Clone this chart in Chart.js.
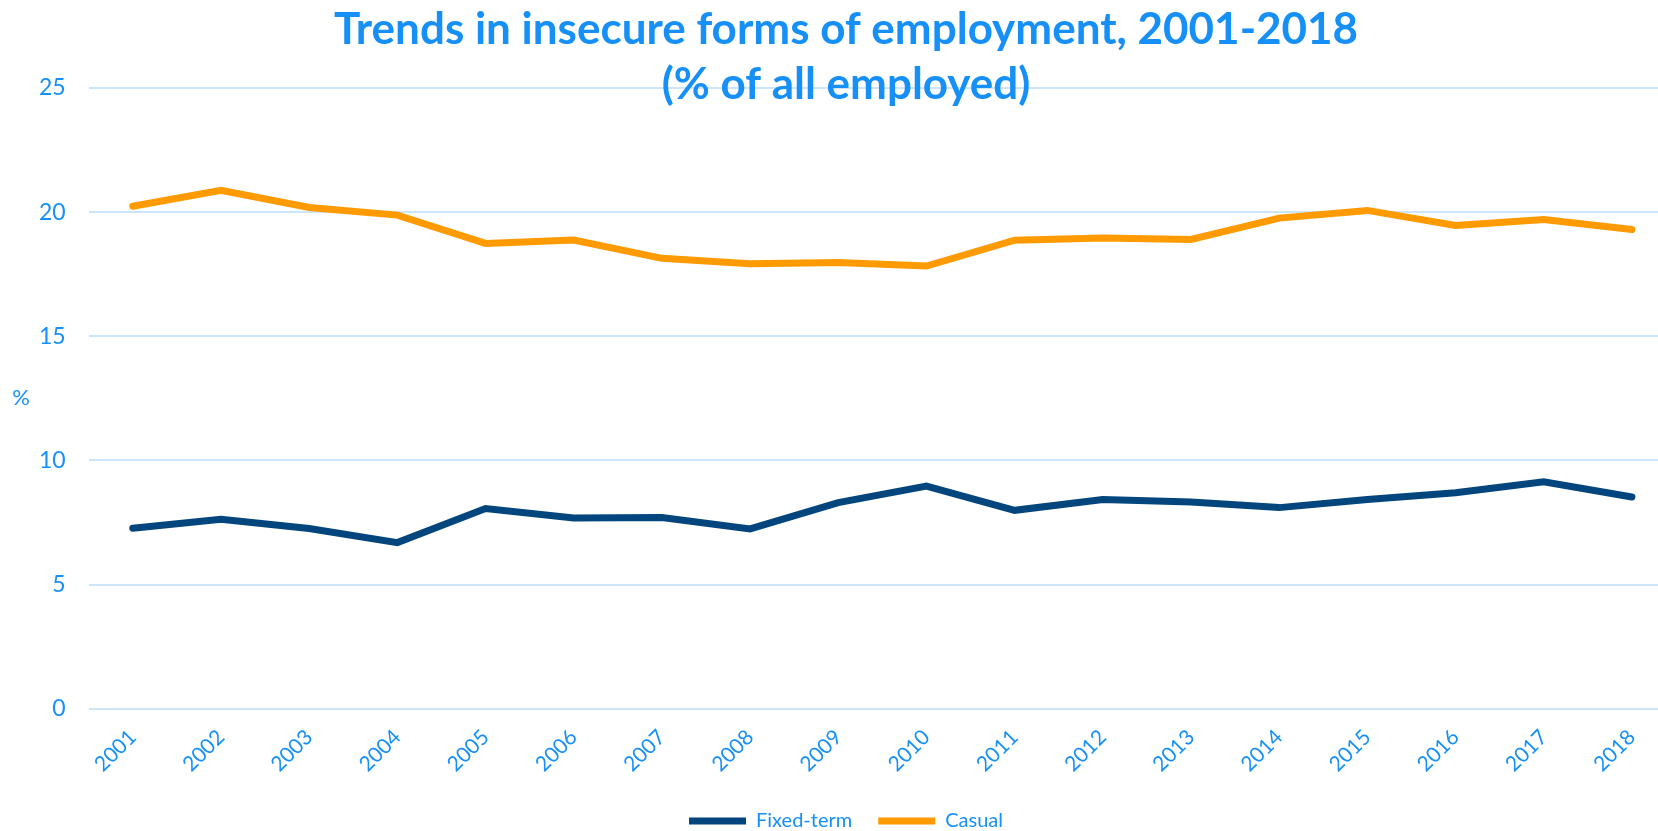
<!DOCTYPE html>
<html>
<head>
<meta charset="utf-8">
<script src="https://cdn.jsdelivr.net/npm/chart.js@4.4.1/dist/chart.umd.min.js"></script>
<style>
  html, body { margin: 0; padding: 0; background: #fff; overflow: hidden; }
  #wrap { width: 1690px; height: 831px; }
</style>
</head>
<body>
<div id="wrap"><canvas id="myLineChart"></canvas></div>
<script>
// data
var years = ['2001','2002','2003','2004','2005','2006','2007','2008','2009',
             '2010','2011','2012','2013','2014','2015','2016','2017','2018'];
var fixedTerm = [7.27, 7.63, 7.26, 6.69, 8.06, 7.68, 7.70, 7.24, 8.30,
                 8.97, 7.99, 8.43, 8.33, 8.10, 8.43, 8.70, 9.14, 8.53];
var casual = [20.24, 20.88, 20.19, 19.88, 18.74, 18.88, 18.14, 17.92, 17.97,
              17.83, 18.87, 18.96, 18.90, 19.76, 20.07, 19.46, 19.70, 19.30];
var yTicks = [0, 5, 10, 15, 20, 25];

var textBlue = '#1690f7';
var gridBlue = '#cde5f9';

// the "%" label beside the y axis is upright, so draw it ourselves
var percentLabel = {
    id: 'percentLabel',
    afterDraw: function (chart) {
        var ctx = chart.ctx;
        var area = chart.chartArea;
        ctx.save();
        ctx.fillStyle = textBlue;
        ctx.font = '22px Lato';
        ctx.textAlign = 'center';
        ctx.textBaseline = 'middle';
        ctx.fillText('%', 21, (area.top + area.bottom) / 2);
        ctx.restore();
    }
};

var ctx = document.getElementById('myLineChart').getContext('2d');
var myLineChart = new Chart(ctx, {
    type: 'line',
    data: {
        labels: years,
        datasets: [{
            label: 'Fixed-term',
            data: fixedTerm,
            borderColor: '#03457d',
            backgroundColor: '#03457d',
            borderWidth: 7,
            borderCapStyle: 'round',
            borderJoinStyle: 'miter',
            pointRadius: 0,
            tension: 0
        }, {
            label: 'Casual',
            data: casual,
            borderColor: '#ff9a00',
            backgroundColor: '#ff9a00',
            borderWidth: 7,
            borderCapStyle: 'round',
            borderJoinStyle: 'miter',
            pointRadius: 0,
            tension: 0
        }]
    },
    options: {
        responsive: true,
        maintainAspectRatio: false,
        animation: false,
        layout: {
            padding: { left: 16, right: 14, top: 0, bottom: -10 }
        },
        plugins: {
            title: {
                display: true,
                text: ['Trends in insecure forms of employment, 2001-2018', '(% of all employed)'],
                color: textBlue,
                font: { family: 'Lato', size: 44, weight: 'bold', lineHeight: 1.25 },
                padding: { top: 2, bottom: -24 }
            },
            legend: {
                display: true,
                position: 'bottom',
                labels: {
                    color: textBlue,
                    font: { family: 'Lato', size: 20 },
                    usePointStyle: true,
                    pointStyle: 'line',
                    pointStyleWidth: 57,
                    boxHeight: 7,
                    padding: 26
                }
            },
            tooltip: { enabled: false }
        },
        scales: {
            x: {
                offset: true,
                grid: { display: false },
                border: { display: false },
                ticks: {
                    color: textBlue,
                    font: { family: 'Lato', size: 21 },
                    maxRotation: 45,
                    minRotation: 45,
                    padding: 8
                }
            },
            y: {
                min: 0,
                max: 25,
                afterBuildTicks: function (scale) {
                    scale.ticks = yTicks.map(function (v) { return { value: v }; });
                },
                grid: { color: gridBlue, lineWidth: 2, drawTicks: false },
                border: { display: false },
                ticks: {
                    color: textBlue,
                    font: { family: 'Lato', size: 23 },
                    padding: 23
                }
            }
        }
    },
    plugins: [percentLabel]
});
</script>
</body>
</html>
